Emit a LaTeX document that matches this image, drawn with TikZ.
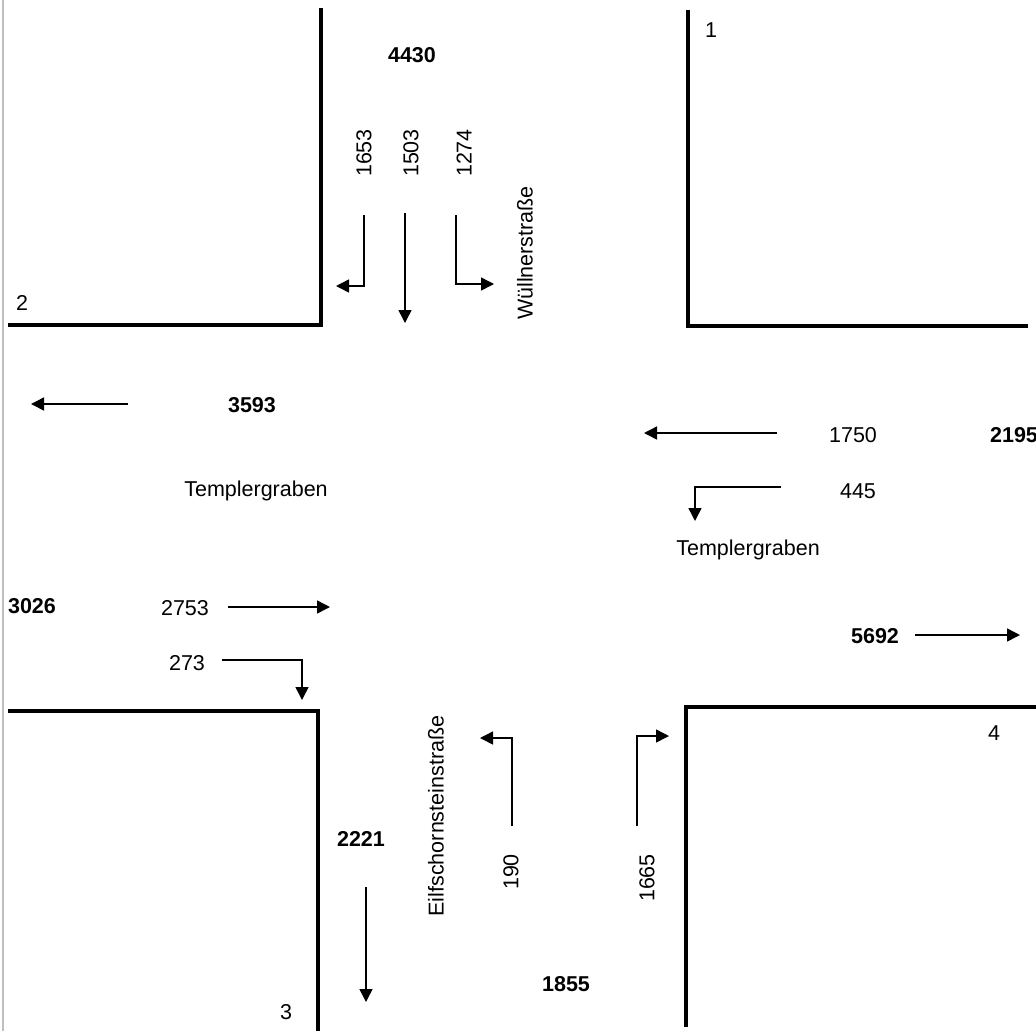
\documentclass[tikz,border=0pt]{standalone}
\usepackage{fontspec}
\setmainfont{Liberation Sans}
\usetikzlibrary{arrows.meta}

\begin{document}
\begin{tikzpicture}[x=1pt, y=-1pt]
    % Styles
    \tikzstyle{every node}=[inner sep=0pt, font=\fontsize{21.5}{24}\selectfont]
    \tikzstyle{kerb}=[line width=4pt]
    \tikzstyle{flow}=[line width=1.5pt, -{Triangle[length=13pt,width=13pt]}]
    \tikzstyle{total}=[font=\fontsize{21.5}{24}\selectfont\bfseries]

    \useasboundingbox (0,0) rectangle (1036,1031);
    \draw[gray!50, line width=1.5pt] (3,0) -- (3,1031);

    % Corners of the four blocks
    \draw[kerb] (8,325) -- (321,325) -- (321,8);
    \draw[kerb] (688,10) -- (688,326) -- (1028,326);
    \draw[kerb] (8,711) -- (318,711) -- (318,1031);
    \draw[kerb] (686,1027) -- (686,707) -- (1036,707);
    \node (b1) at (711,30) {1};
    \node (b2) at (22,303) {2};
    \node (b3) at (286,1012) {3};
    \node (b4) at (994,733) {4};

    % North arm: Wuellnerstrasse
    \node[total] (n4430) at (412,55) {4430};
    \node[rotate=90] (n1653) at (364,153) {1653};
    \node[rotate=90] (n1503) at (411,153) {1503};
    \node[rotate=90] (n1274) at (464,153) {1274};
    \node[rotate=90] (wuell) at (525,253) {Wüllnerstraße};
    \draw[flow] (364,215) -- (364,286) -- (336,286);
    \draw[flow] (405,213) -- (405,323);
    \draw[flow] (456,215) -- (456,284) -- (494,284);

    % West arm: Templergraben
    \node[total] (n3593) at (252,405) {3593};
    \draw[flow] (128,404) -- (31,404);
    \node (templW) at (256,491) {Templergraben};
    \node[total] (n3026) at (32,606) {3026};
    \node (n2753) at (185,608) {2753};
    \draw[flow] (228,607) -- (330,607);
    \node (n273) at (187,663) {273};
    \draw[flow] (222,660) -- (302,660) -- (302,700);

    % East arm: Templergraben
    \node (n1750) at (853,435) {1750};
    \node[total] (n2195) at (1014,435) {2195};
    \draw[flow] (777,433) -- (644,433);
    \node (n445) at (858,491) {445};
    \draw[flow] (781,487) -- (695,487) -- (695,521);
    \node (templE) at (748,550) {Templergraben};
    \node[total] (n5692) at (875,636) {5692};
    \draw[flow] (915,635) -- (1020,635);

    % South arm: Eilfschornsteinstrasse
    \node[rotate=90] (eilf) at (436,816) {Eilfschornsteinstraße};
    \node[rotate=90] (n190) at (511,872) {190};
    \draw[flow] (512,826) -- (512,738) -- (480,738);
    \node[rotate=90] (n1665) at (647,878) {1665};
    \draw[flow] (637,826) -- (637,736) -- (669,736);
    \node[total] (n2221) at (361,839) {2221};
    \draw[flow] (366,887) -- (366,1002);
    \node[total] (n1855) at (566,984) {1855};

\end{tikzpicture}
\end{document}
